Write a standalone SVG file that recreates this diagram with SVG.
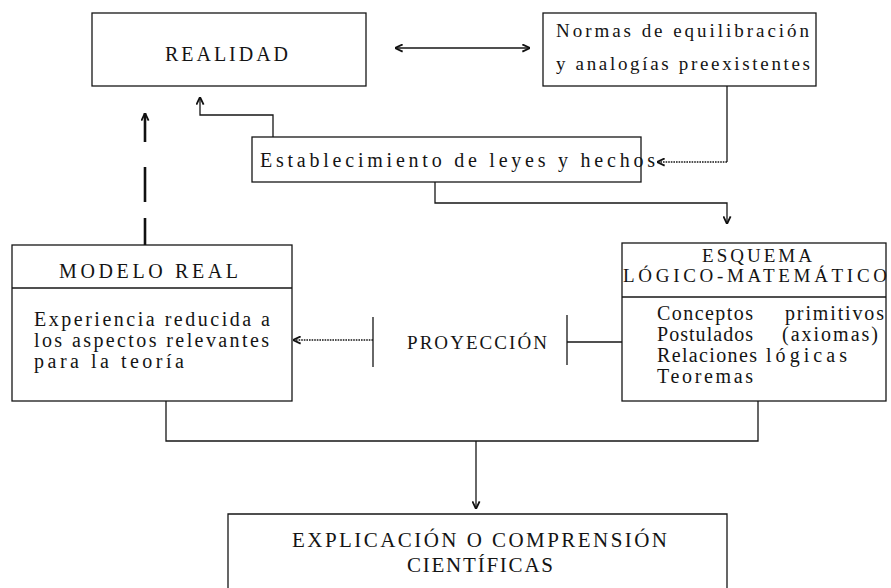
<svg xmlns="http://www.w3.org/2000/svg" width="891" height="588" viewBox="0 0 891 588">
<style>
  .bx { fill: none; stroke: #161616; stroke-width: 1.3; }
  .ln { fill: none; stroke: #161616; stroke-width: 1.3; }
  .dot { fill: none; stroke: #161616; stroke-width: 1.3; stroke-dasharray: 1.6 1; }
  .dash { fill: none; stroke: #111; stroke-width: 2.6; }
  .t { font-family: "Liberation Serif", "Times New Roman", serif; fill: #141414; }
  .s19 { font-size: 19px; }
  .s20 { font-size: 20px; }
  .s21 { font-size: 21px; }
</style>
<defs>
  <marker id="arr" viewBox="0 0 10 10" refX="9.5" refY="5" markerWidth="9" markerHeight="9" markerUnits="userSpaceOnUse" orient="auto-start-reverse">
    <path d="M1,1 L9.5,5 L1,9" fill="none" stroke="#111" stroke-width="2"/>
  </marker>
</defs>
<rect width="891" height="588" fill="#ffffff"/>

<g id="realidad">
  <rect class="bx" x="92" y="13" width="274" height="73"/>
  <text class="t s20" x="165" y="61" textLength="123" lengthAdjust="spacing">REALIDAD</text>
</g>

<g id="normas">
  <rect class="bx" x="543" y="13" width="273" height="73"/>
  <text class="t s19" x="556" y="37" textLength="253" lengthAdjust="spacing">Normas de equilibración</text>
  <text class="t s19" x="556" y="70" textLength="254" lengthAdjust="spacing">y analogías preexistentes</text>
</g>

<g id="establecimiento">
  <rect class="bx" x="252" y="137" width="389" height="45"/>
  <text class="t s20" x="260" y="167" textLength="395" lengthAdjust="spacing">Establecimiento de leyes y hechos</text>
</g>

<g id="modelo">
  <rect class="bx" x="12" y="245" width="280" height="156"/>
  <line class="ln" x1="12" y1="288" x2="292" y2="288"/>
  <text class="t s20" x="59" y="278" textLength="179" lengthAdjust="spacing">MODELO REAL</text>
  <text class="t s20" x="34" y="326" textLength="236" lengthAdjust="spacing">Experiencia reducida a</text>
  <text class="t s20" x="34" y="347" textLength="235" lengthAdjust="spacing">los aspectos relevantes</text>
  <text class="t s20" x="34" y="368" textLength="150" lengthAdjust="spacing">para la teoría</text>
</g>

<g id="proyeccion">
  <text class="t s19" x="407" y="349" textLength="140" lengthAdjust="spacing">PROYECCIÓN</text>
</g>

<g id="esquema">
  <rect class="bx" x="622" y="243" width="264" height="158"/>
  <line class="ln" x1="622" y1="297" x2="886" y2="297"/>
  <text class="t s19" x="702" y="262" textLength="110" lengthAdjust="spacing">ESQUEMA</text>
  <text class="t s19" x="623" y="282" textLength="264" lengthAdjust="spacing">LÓGICO-MATEMÁTICO</text>
  <text class="t s20" x="657" y="320" textLength="96" lengthAdjust="spacing">Conceptos</text>
  <text class="t s20" x="785" y="320" textLength="99" lengthAdjust="spacing">primitivos</text>
  <text class="t s20" x="657" y="341" textLength="96" lengthAdjust="spacing">Postulados</text>
  <text class="t s20" x="782" y="341" textLength="96" lengthAdjust="spacing">(axiomas)</text>
  <text class="t s20" x="657" y="362" textLength="100" lengthAdjust="spacing">Relaciones</text>
  <text class="t s20" x="766" y="362" textLength="81" lengthAdjust="spacing">lógicas</text>
  <text class="t s20" x="657" y="383" textLength="96" lengthAdjust="spacing">Teoremas</text>
</g>

<g id="explicacion">
  <polyline class="bx" points="228,590 228,514 727,514 727,590"/>
  <text class="t s21" x="292" y="547" textLength="375" lengthAdjust="spacing">EXPLICACIÓN O COMPRENSIÓN</text>
  <text class="t s21" x="407" y="572" textLength="146" lengthAdjust="spacing">CIENTÍFICAS</text>
</g>

<g id="connectors">
  <line class="ln" x1="395" y1="48" x2="530" y2="48" marker-start="url(#arr)" marker-end="url(#arr)"/>
  <line class="ln" x1="727" y1="86" x2="727" y2="162"/>
  <line class="dot" x1="727" y1="162" x2="657" y2="162" marker-end="url(#arr)"/>
  <polyline class="ln" points="273,137 273,115 200,115 200,97" marker-end="url(#arr)"/>
  <polyline class="ln" points="435,182 435,203 727,203 727,224" marker-end="url(#arr)"/>
  <line class="dash" x1="145" y1="142" x2="145" y2="113" marker-end="url(#arr)"/>
  <line class="dash" x1="145" y1="167" x2="145" y2="202"/>
  <line class="dash" x1="145" y1="218" x2="145" y2="245"/>
  <line class="ln" x1="373" y1="317" x2="373" y2="367"/>
  <line class="dot" x1="373" y1="340" x2="293" y2="340" marker-end="url(#arr)"/>
  <line class="ln" x1="567" y1="315" x2="567" y2="365"/>
  <line class="ln" x1="567" y1="342" x2="622" y2="342"/>
  <polyline class="ln" points="166,401 166,441 758,441 758,401"/>
  <line class="ln" x1="476" y1="441" x2="476" y2="509" marker-end="url(#arr)"/>
</g>
</svg>
